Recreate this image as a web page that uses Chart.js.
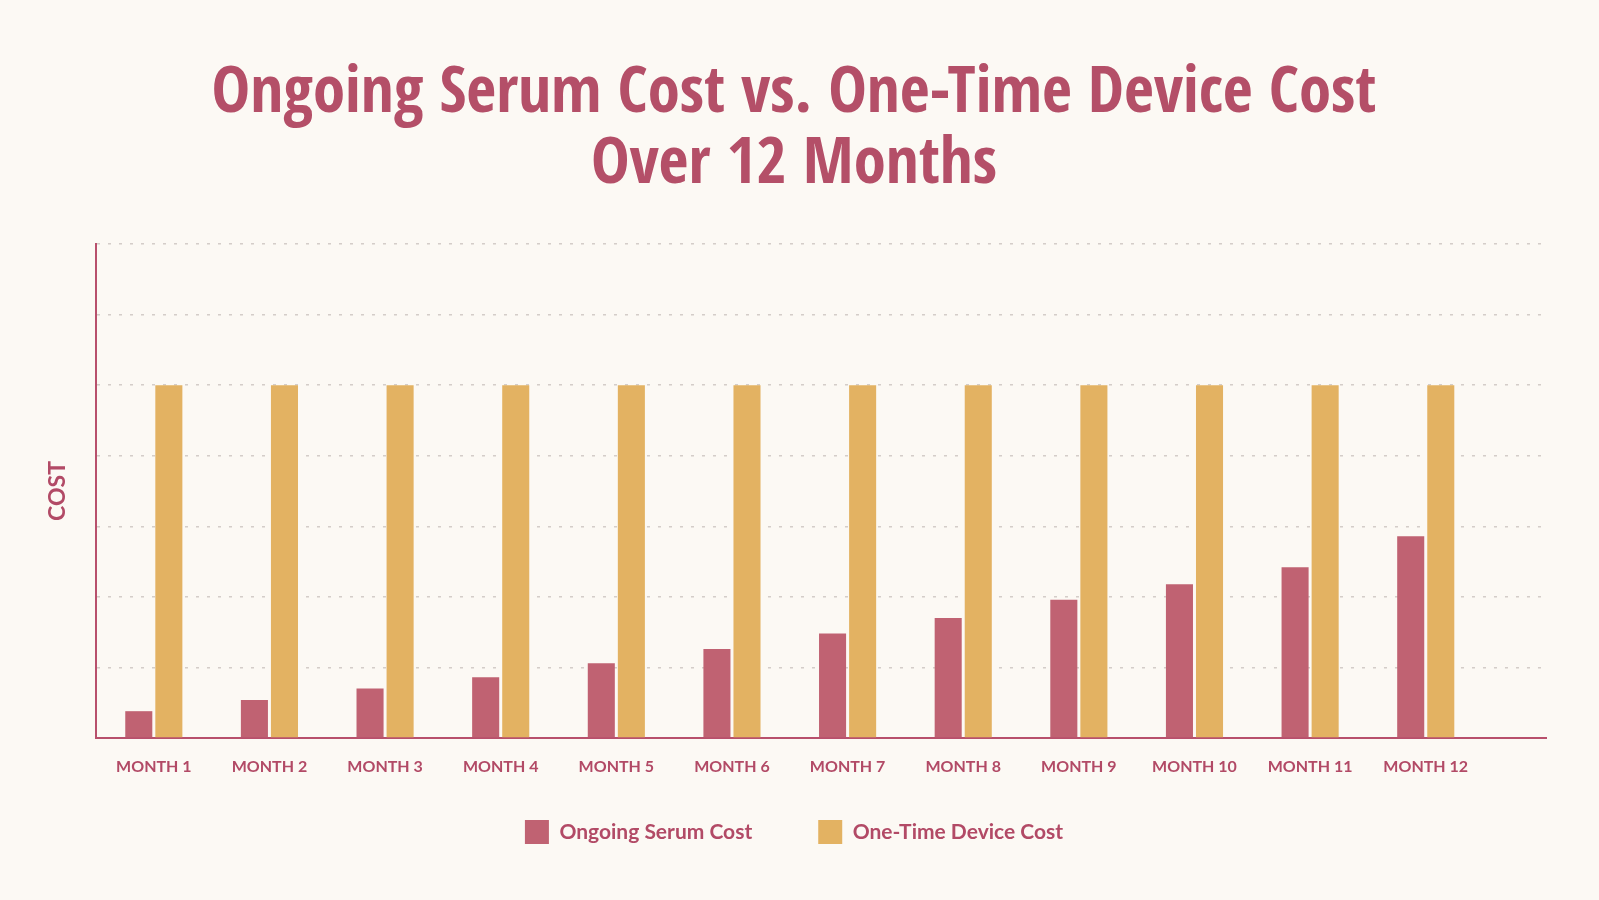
<!DOCTYPE html>
<html>
<head>
<meta charset="utf-8">
<title>Ongoing Serum Cost vs. One-Time Device Cost</title>
<script src="https://cdn.jsdelivr.net/npm/chart.js@4.4.1/dist/chart.umd.min.js"></script>
<style>
    html, body {
        margin: 0;
        padding: 0;
        background: #fcf9f4;
    }
    #wrap {
        width: 1599px;
        height: 900px;
    }
</style>
</head>
<body>
<div id="wrap"><canvas id="costChart"></canvas></div>
<script>
const months = ['MONTH 1', 'MONTH 2', 'MONTH 3', 'MONTH 4', 'MONTH 5', 'MONTH 6',
    'MONTH 7', 'MONTH 8', 'MONTH 9', 'MONTH 10', 'MONTH 11', 'MONTH 12'];
const serumCost = [19, 27, 35, 43, 53, 63, 74, 85, 98, 109, 121, 143];
const deviceCost = [250, 250, 250, 250, 250, 250, 250, 250, 250, 250, 250, 250];
const titleLines = ['Ongoing Serum Cost vs. One-Time Device Cost', 'Over 12 Months'];

const pink = '#c06272';
const gold = '#e3b262';
const textColor = '#b24a66';

// bars sit on a linear x scale so the axis can run a bit past Month 12
function toPoints(values) {
    return values.map((v, i) => ({ x: i + 1, y: v }));
}

// legend needs wide gaps between items but sits close under the month labels
const legendLift = {
    id: 'legendLift',
    afterLayout(chart) {
        chart.legend.top -= 42;
        chart.legend.bottom -= 42;
    }
};

const ctx = document.getElementById('costChart').getContext('2d');
new Chart(ctx, {
    type: 'bar',
    data: {
        datasets: [
            {
                label: 'Ongoing Serum Cost',
                data: toPoints(serumCost),
                backgroundColor: pink,
                borderWidth: 0,
                categoryPercentage: 0.52,
                barPercentage: 0.9
            },
            {
                label: 'One-Time Device Cost',
                data: toPoints(deviceCost),
                backgroundColor: gold,
                borderWidth: 0,
                categoryPercentage: 0.52,
                barPercentage: 0.9
            }
        ]
    },
    plugins: [legendLift],
    options: {
        responsive: true,
        maintainAspectRatio: false,
        animation: false,
        layout: {
            padding: { left: 42, right: 53, top: 0, bottom: 4 }
        },
        scales: {
            x: {
                type: 'linear',
                offset: false,
                min: 0.5,
                max: 13.04,
                grid: { display: false, drawTicks: false },
                border: { display: true, color: '#b8506c', width: 2 },
                afterBuildTicks: (scale) => {
                    scale.ticks = months.map((m, i) => ({ value: i + 1 }));
                },
                ticks: {
                    autoSkip: false,
                    maxRotation: 0,
                    padding: 21,
                    color: textColor,
                    font: { family: 'Lato', size: 16, weight: 'bold', lineHeight: 1 },
                    callback: (value) => months[value - 1]
                }
            },
            y: {
                min: 0,
                max: 350,
                ticks: { display: false, stepSize: 50 },
                grid: { color: 'rgba(185, 175, 172, 0.6)', lineWidth: 1.5, drawTicks: false },
                border: { display: true, color: '#b8506c', width: 2, dash: [3, 8] },
                afterFit: (scale) => {
                    scale.width = 54;
                },
                title: {
                    display: true,
                    text: 'COST',
                    color: textColor,
                    font: { family: 'Lato', size: 23, weight: 'bold' },
                    padding: { top: 2, bottom: 0 }
                }
            }
        },
        plugins: {
            title: {
                display: true,
                text: titleLines,
                color: '#b44f68',
                font: { family: "'Open Sans Condensed', 'Roboto Condensed', sans-serif", size: 65, weight: 800, lineHeight: 1.1 },
                padding: { top: 59, bottom: 42 }
            },
            legend: {
                position: 'bottom',
                labels: {
                    boxWidth: 24,
                    boxHeight: 24,
                    padding: 66,
                    color: textColor,
                    font: { family: 'Lato', size: 21, weight: 'bold' }
                }
            },
            tooltip: { enabled: false }
        }
    }
});
</script>
</body>
</html>
